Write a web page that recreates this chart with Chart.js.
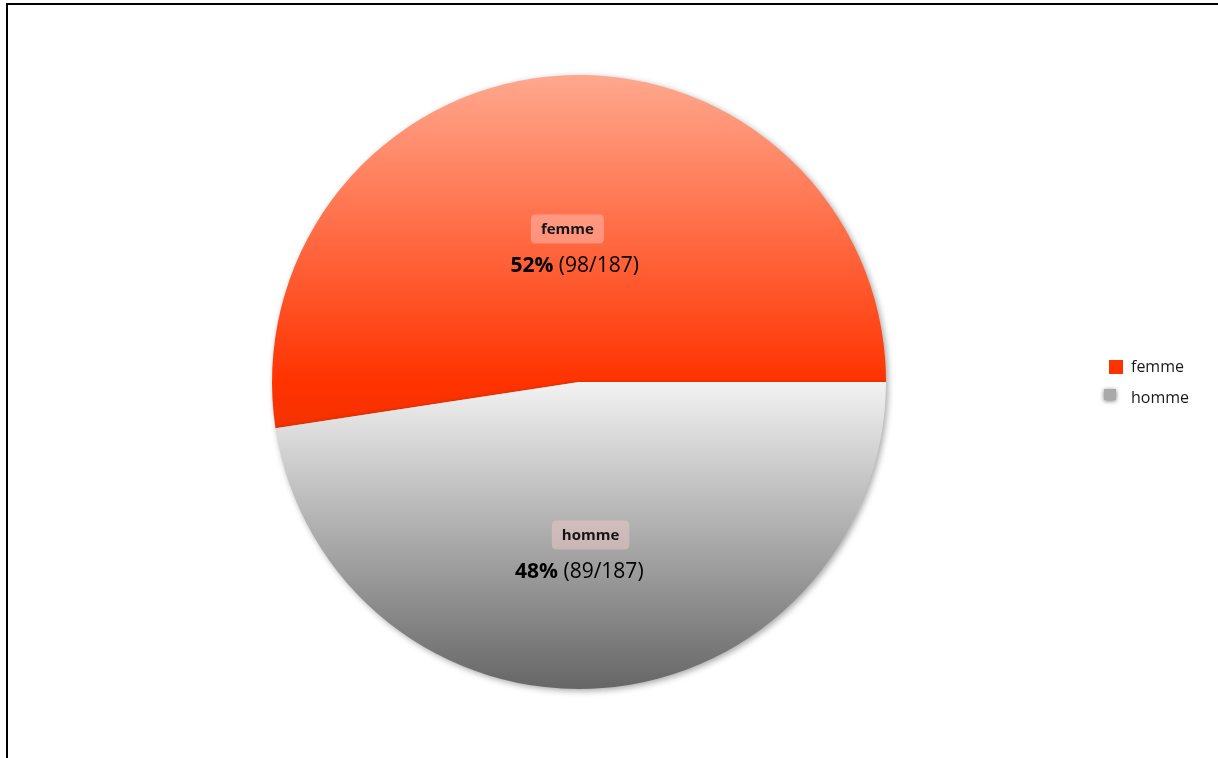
<!DOCTYPE html>
<html>
<head>
<meta charset="utf-8">
<script src="https://cdn.jsdelivr.net/npm/chart.js@4.4.1/dist/chart.umd.min.js"></script>
<style>
  html, body { margin: 0; padding: 0; background: #fff; }
  #wrap { position: relative; width: 1218px; height: 758px; overflow: hidden; }
  #frame { position: absolute; left: 6px; top: 3px; right: 0; bottom: 0;
           border-top: 2px solid #000; border-left: 2px solid #000; pointer-events: none; }
  canvas { position: absolute; left: 0; top: 0; }
</style>
</head>
<body>
<div id="wrap">
  <canvas id="c" width="1218" height="758"></canvas>
  <div id="frame"></div>
</div>
<script>
// Respondents by gender
const categories = ['femme', 'homme'];
const counts = [98, 89];
const legendColors = ['#FF3300', '#A9A9A9'];

const total = counts.reduce((a, b) => a + b, 0);
const FONT = '"Open Sans", "Noto Sans", sans-serif';

// Vertical gradient per slice, built over the pie's bounding box
function sliceFill(ctx) {
  const area = ctx.chart.chartArea;
  if (!area) return legendColors[ctx.dataIndex];
  const c = ctx.chart.ctx;
  const top = area.top, bottom = area.bottom, mid = (top + bottom) / 2;
  if (ctx.dataIndex === 0) {
    const g = c.createLinearGradient(0, top, 0, bottom);
    g.addColorStop(0, '#FFA88E');
    g.addColorStop(0.5, '#FF3300');
    g.addColorStop(1, '#B82400');
    return g;
  }
  const g = c.createLinearGradient(0, mid, 0, bottom);
  g.addColorStop(0, '#F2F2F2');
  g.addColorStop(1, '#666666');
  return g;
}

function roundRect(c, x, y, w, h, r) {
  c.beginPath();
  c.moveTo(x + r, y);
  c.lineTo(x + w - r, y);
  c.quadraticCurveTo(x + w, y, x + w, y + r);
  c.lineTo(x + w, y + h - r);
  c.quadraticCurveTo(x + w, y + h, x + w - r, y + h);
  c.lineTo(x + r, y + h);
  c.quadraticCurveTo(x, y + h, x, y + h - r);
  c.lineTo(x, y + r);
  c.quadraticCurveTo(x, y, x + r, y);
  c.closePath();
}

const piePlugin = {
  id: 'pieDecor',
  beforeDatasetsDraw(chart) {
    const c = chart.ctx;
    c.save();
    c.shadowColor = 'rgba(0,0,0,0.35)';
    c.shadowBlur = 6;
    c.shadowOffsetX = 2;
    c.shadowOffsetY = 2;
  },
  afterDatasetsDraw(chart) {
    const c = chart.ctx;
    c.restore();
    const meta = chart.getDatasetMeta(0);
    meta.data.forEach((arc, i) => {
      const p = arc.getProps(['x', 'y', 'startAngle', 'endAngle', 'outerRadius'], true);
      const a = (p.startAngle + p.endAngle) / 2;
      const d = p.outerRadius * 0.5;
      const bx = p.x + Math.cos(a) * d;
      const by = p.y + Math.sin(a) * d;

      // category tag
      c.font = 'bold 15px ' + FONT;
      const tw = c.measureText(categories[i]).width;
      const bw = tw + 20, bh = 29;
      c.fillStyle = 'rgba(255,205,205,0.42)';
      roundRect(c, bx - bw / 2, by - bh / 2, bw, bh, 5);
      c.fill();
      c.fillStyle = '#151515';
      c.textAlign = 'center';
      c.textBaseline = 'middle';
      c.fillText(categories[i], bx, by + 1);

      // percentage and count
      const pct = Math.round(counts[i] / total * 100) + '%';
      const rest = ' (' + counts[i] + '/' + total + ')';
      c.font = 'bold 21px ' + FONT;
      const w1 = c.measureText(pct).width;
      c.font = '21px ' + FONT;
      const w2 = c.measureText(rest).width;
      const lx = p.x + (bx - p.x) * 0.2 - 2 - (w1 + w2) / 2;
      const ly = by + 37;
      c.textAlign = 'left';
      c.fillStyle = '#000';
      c.font = 'bold 21px ' + FONT;
      c.fillText(pct, lx, ly);
      c.font = '21px ' + FONT;
      c.fillText(rest, lx + w1, ly);
    });
  },
  afterDraw(chart) {
    // legend at the right
    const c = chart.ctx;
    const rows = [{ y: 367, sq: [1109, 360, 14, 14], shadow: false },
                  { y: 398, sq: [1104, 389, 12, 11], shadow: true }];
    categories.forEach((name, i) => {
      const r = rows[i];
      c.save();
      if (r.shadow) {
        c.shadowColor = 'rgba(0,0,0,0.55)';
        c.shadowBlur = 4;
        c.shadowOffsetX = 0;
        c.shadowOffsetY = 1;
      }
      c.fillStyle = legendColors[i];
      c.fillRect(r.sq[0], r.sq[1], r.sq[2], r.sq[3]);
      c.restore();
      c.fillStyle = '#1a1a1a';
      c.font = '16px ' + FONT;
      c.textAlign = 'left';
      c.textBaseline = 'middle';
      c.fillText(name, 1131, r.y);
    });
  }
};

new Chart(document.getElementById('c'), {
  type: 'pie',
  data: {
    labels: categories,
    datasets: [{
      data: counts,
      backgroundColor: sliceFill,
      borderWidth: 0
    }]
  },
  options: {
    responsive: false,
    animation: false,
    rotation: 90 + 360 * (total - counts[0]) / total,
    layout: { padding: { left: 272, right: 332, top: 75, bottom: 69 } },
    plugins: {
      legend: { display: false },
      tooltip: { enabled: false }
    }
  },
  plugins: [piePlugin]
});
</script>
</body>
</html>
